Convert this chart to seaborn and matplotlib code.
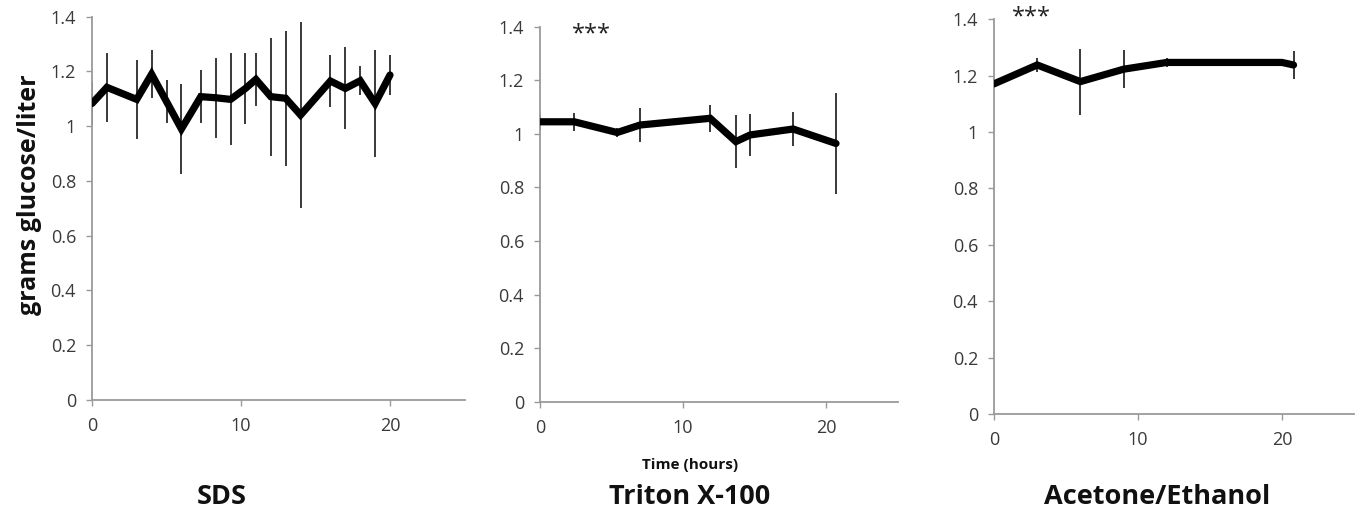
import matplotlib
matplotlib.use("Agg")
import matplotlib.pyplot as plt
import seaborn as sns
import pandas as pd

sns.set_theme(style="white")
plt.rcParams["font.family"] = ["Open Sans", "DejaVu Sans"]

# Glucose released over time for each extraction treatment (mean and error)
sds_time = [0, 1, 3, 4, 5, 6, 7.3, 8.3, 9.3, 10.3, 11, 12, 13, 14, 16, 17, 18, 19, 20]
sds_glucose = [1.083, 1.142, 1.098, 1.19, 1.09, 0.99, 1.108, 1.104, 1.098, 1.138,
               1.171, 1.108, 1.102, 1.041, 1.165, 1.138, 1.166, 1.083, 1.187]
sds_err = [0.08, 0.127, 0.143, 0.087, 0.079, 0.166, 0.097, 0.146, 0.168, 0.13,
           0.097, 0.216, 0.246, 0.34, 0.094, 0.15, 0.053, 0.196, 0.073]

triton_time = [0, 2.4, 5.4, 7.0, 11.9, 13.7, 14.7, 17.7, 20.7]
triton_glucose = [1.045, 1.045, 1.005, 1.033, 1.058, 0.971, 0.996, 1.018, 0.964]
triton_err = [0.03, 0.033, 0.015, 0.062, 0.05, 0.1, 0.078, 0.062, 0.19]

acetone_time = [0, 3, 6, 9, 12, 20, 20.8]
acetone_glucose = [1.171, 1.238, 1.179, 1.223, 1.247, 1.247, 1.238]
acetone_err = [0.0, 0.026, 0.117, 0.068, 0.015, 0.012, 0.05]

panel_titles = ["SDS", "Triton X-100", "Acetone/Ethanol"]
significance = ["", "***", "***"]
star_pos = [None, (3.6, 1.37), (2.6, 1.405)]
y_ticks = [0, 0.2, 0.4, 0.6, 0.8, 1.0, 1.2, 1.4]
y_ticklabels = ["0", "0.2", "0.4", "0.6", "0.8", "1", "1.2", "1.4"]
x_ticks = [0, 10, 20]

series = [
    (sds_time, sds_glucose, sds_err),
    (triton_time, triton_glucose, triton_err),
    (acetone_time, acetone_glucose, acetone_err),
]

fig = plt.figure(figsize=(13.6, 5.14), dpi=100)
W, H = 1360, 514
# axes boxes in pixels: left, bottom(y from top), right, top(y from top)
boxes = [(92, 400, 464.5, 16.7), (540, 401.7, 897.5, 26.7), (994, 414, 1354, 19.3)]
title_x = [222, 690, 1157]

spine_col = "#9a9a9a"
tick_col = "#3a3a3a"

for i, ((t, g, e), box) in enumerate(zip(series, boxes)):
    l, b, r, tp = box
    ax = fig.add_axes([l / W, 1 - b / H, (r - l) / W, (b - tp) / H])
    df = pd.DataFrame({"time": t, "glucose": g, "err": e})
    lo = df["glucose"] - df["err"]
    hi = df["glucose"] + df["err"]
    ax.vlines(df["time"], lo, hi, color="#2a2a2a", linewidth=1.3, zorder=2)
    sns.lineplot(data=df, x="time", y="glucose", ax=ax, color="black",
                 linewidth=5.2, zorder=3, solid_joinstyle="miter",
                 solid_capstyle="round")
    ax.set_xlim(0, 25)
    ax.set_ylim(0, 1.4)
    ax.set_xticks(x_ticks)
    ax.set_xticklabels([str(v) for v in x_ticks])
    ax.set_yticks(y_ticks)
    ax.set_yticklabels(y_ticklabels)
    ax.set_xlabel("")
    ax.set_ylabel("")
    for s in ["top", "right"]:
        ax.spines[s].set_visible(False)
    for s in ["left", "bottom"]:
        ax.spines[s].set_color(spine_col)
        ax.spines[s].set_linewidth(1.3)
    ax.tick_params(axis="both", which="both", direction="out", length=4.5,
                   width=1.0, color=spine_col, labelsize=13,
                   labelcolor=tick_col, pad=7, left=True, bottom=True)
    ax.tick_params(axis="x", pad=8)
    ax.patch.set_alpha(0)
    if significance[i]:
        sx, sy = star_pos[i]
        ax.text(sx, sy, significance[i], ha="center", va="center",
                fontsize=17, color="#222222", clip_on=False)
    fig.text(title_x[i] / W, 1 - 497 / H, panel_titles[i], ha="center",
             va="center", fontsize=19.5, fontweight="bold", color="#111111")

fig.text(690 / W, 1 - 465 / H, "Time (hours)", ha="center", va="center",
         fontsize=11, fontweight="bold", color="#111111")
fig.text(30 / W, 1 - 195 / H, "grams glucose/liter", ha="center", va="center",
         rotation=90, fontsize=18, fontweight="bold", color="#111111")

fig.savefig("out.png", dpi=100, facecolor="white")
